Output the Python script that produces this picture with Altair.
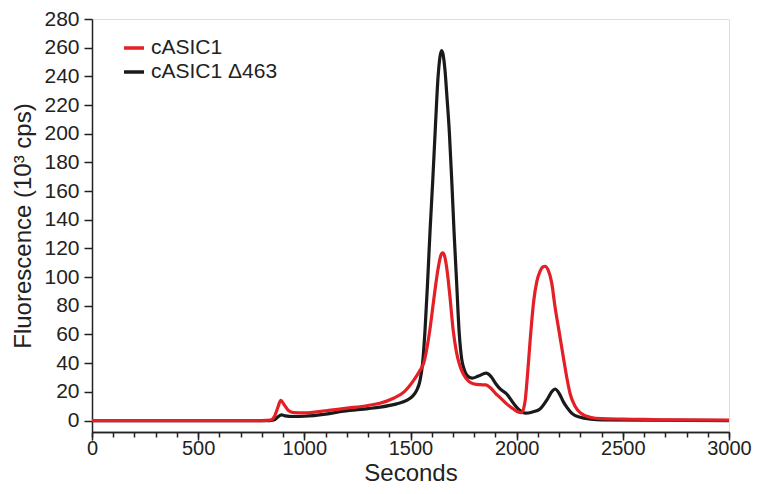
import altair as alt
import pandas as pd

# cASIC1 (red)
red_s = [0, 800, 840, 860, 875, 889, 905, 925, 950, 1000, 1100, 1200, 1300, 1356, 1420, 1470, 1514,
         1545, 1562, 1590, 1611, 1630, 1645, 1652, 1660, 1672, 1686, 1701, 1716, 1733, 1750, 1773,
         1800, 1828, 1855, 1875, 1900, 1922, 1953, 1980, 2000, 2024, 2040, 2050, 2063, 2080, 2095,
         2110, 2122, 2134, 2148, 2165, 2181, 2200, 2220, 2236, 2252, 2275, 2299, 2346, 2400, 2500,
         2600, 2700, 3000]
red_v = [0, 0, 0.3, 3, 9, 14, 11, 7, 5.5, 5.3, 6.8, 8.6, 10.5, 12, 15.5, 20, 27.8,
         35, 40, 62, 86, 106, 116, 117, 115, 105, 86, 63, 48, 38, 32, 27.5,
         25.5, 25, 24.8, 23, 19, 16, 11.6, 8.5, 6.5, 5.5, 13.9, 30, 55, 83, 97,
         104, 107, 107.6, 105, 96, 79, 62, 44, 30, 18.5, 10, 5.5, 2.3, 1.3, 1,
         0.8, 0.5, 0.3]

# cASIC1 Δ463 (black)
blk_s = [0, 840, 860, 875, 893, 910, 948, 1000, 1100, 1184, 1300, 1356, 1435, 1482, 1510, 1529,
         1545, 1557, 1568, 1580, 1592, 1605, 1616, 1630, 1647, 1662, 1672, 1683, 1695, 1705, 1717,
         1729, 1741, 1752, 1766, 1790, 1820, 1856, 1880, 1900, 1922, 1953, 1985, 2016, 2040, 2075,
         2110, 2145, 2165, 2181, 2200, 2220, 2236, 2260, 2299, 2350, 2400, 3000]
blk_v = [0, 0, 0.5, 2.5, 4, 3.2, 2.8, 3, 4.5, 6.5, 8.3, 9.3, 11.6, 14, 17, 21,
         28, 40, 62, 95, 132, 168, 201, 240, 258, 245, 225, 201, 165, 132, 97,
         62, 43, 36, 31.5, 29.5, 31, 33, 30.5, 26, 22, 18.5, 12, 6.9, 5.1, 6,
         8.1, 15, 20, 22, 19, 13, 9.3, 5, 2.3, 1, 0.5, 0]

series_names = ["cASIC1", "cASIC1 \u0394463"]
series_colors = ["#e41f26", "#1a1a1a"]
x_minor_ticks = list(range(0, 3001, 100))
x_major_ticks = list(range(0, 3001, 500))
y_ticks = list(range(0, 281, 20))

df = pd.concat([
    pd.DataFrame({"s": red_s, "v": red_v, "series": series_names[0]}),
    pd.DataFrame({"s": blk_s, "v": blk_v, "series": series_names[1]}),
])

FONT = "Liberation Sans"
INK = "#222222"

x_scale = alt.Scale(domain=[0, 3000], nice=False, zero=False)
x_minor = alt.X("s:Q", title=None, scale=x_scale,
                axis=alt.Axis(values=x_minor_ticks, grid=False, labels=False, orient="bottom",
                              tickSize=5, tickWidth=1.5, tickColor=INK,
                              domainColor=INK, domainWidth=1.5))
x_major = alt.X("s:Q", title="Seconds", scale=x_scale,
                axis=alt.Axis(values=x_major_ticks, grid=False, orient="bottom", format="d",
                              labelFlush=False, labelOverlap=False,
                              labelFontSize=20, titleFontSize=24, titleFontWeight="normal",
                              labelColor=INK, titleColor=INK, labelFont=FONT, titleFont=FONT,
                              tickSize=8, tickWidth=1.5, tickColor=INK,
                              domainColor=INK, domainWidth=1.5, labelPadding=-2,
                              titleBaseline="alphabetic", titleY=48.8))
y_enc = alt.Y("v:Q", title="Fluorescence (10\u00b3 cps)",
              scale=alt.Scale(domain=[-8, 280], nice=False, zero=False),
              axis=alt.Axis(values=y_ticks, grid=False, format="d",
                            labelFlush=False, labelOverlap=False,
                            labelFontSize=21, titleFontSize=24, titleFontWeight="normal",
                            labelColor=INK, titleColor=INK, labelFont=FONT, titleFont=FONT,
                            tickSize=8, tickWidth=1.5, tickColor=INK,
                            domainColor=INK, domainWidth=1.5, labelPadding=5, titlePadding=8))
color_enc = alt.Color("series:N",
                      scale=alt.Scale(domain=series_names, range=series_colors),
                      legend=alt.Legend(title=None, orient="none", legendX=30, legendY=17,
                                        symbolType="stroke", symbolSize=400, symbolStrokeWidth=3.5,
                                        labelFontSize=21, labelFont=FONT, labelColor=INK,
                                        rowPadding=2, labelOffset=5))

black_layer = alt.Chart(df).transform_filter(
    alt.datum.series == series_names[1]
).mark_line(strokeWidth=3.2, interpolate="monotone").encode(x=x_minor, y=y_enc, color=color_enc)

red_layer = alt.Chart(df).transform_filter(
    alt.datum.series == series_names[0]
).mark_line(strokeWidth=3.2, interpolate="monotone").encode(x=x_major, y=y_enc, color=color_enc)

chart = alt.layer(black_layer, red_layer).resolve_axis(x="independent").properties(
    width=637, height=413,
    autosize=alt.AutoSizeParams(type="none"),
    padding={"left": 84, "top": 11, "right": 27, "bottom": 54},
).configure_view(stroke=None).configure(background="white")

chart.save("out.html", embed_options={"renderer": "svg", "actions": False})
